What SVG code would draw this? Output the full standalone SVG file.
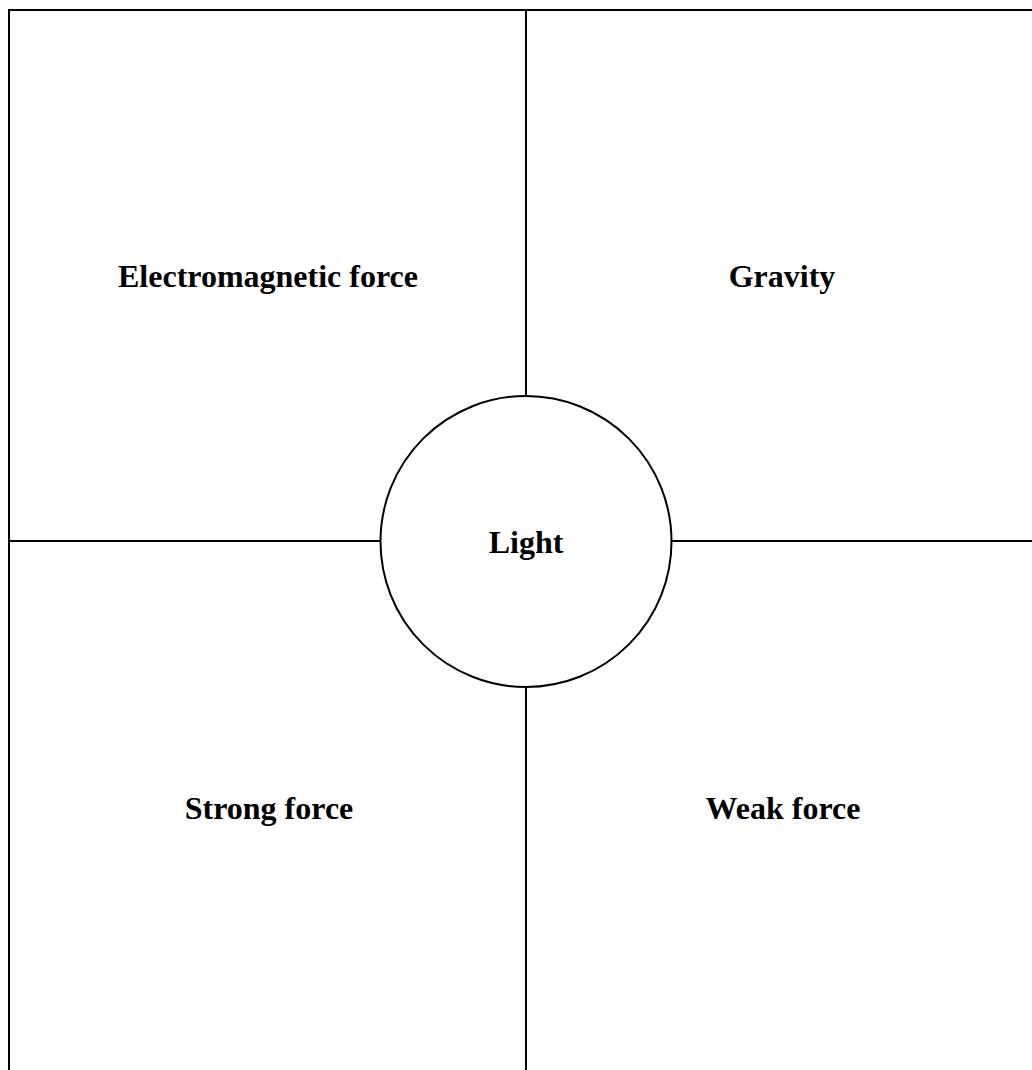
<svg xmlns="http://www.w3.org/2000/svg" width="1032" height="1070" viewBox="0 0 1032 1070">
<style>
.ln{stroke:#000;stroke-width:2;fill:none}
.lbl{font-family:"Liberation Serif","Times New Roman",serif;font-weight:bold;font-size:32px;fill:#000;text-anchor:middle}
</style>
<rect width="1032" height="1070" fill="#fff"/>
<g id="connectors">
<path class="ln" d="M9,1070 V10 H1032"/>
<path class="ln" d="M526,10 V396"/>
<path class="ln" d="M526,687 V1070"/>
<path class="ln" d="M9,541 H380"/>
<path class="ln" d="M672,541 H1032"/>
</g>
<g id="electromagnetic"><text class="lbl" x="268" y="287">Electromagnetic force</text></g>
<g id="gravity"><text class="lbl" x="782" y="287">Gravity</text></g>
<g id="strong"><text class="lbl" x="269" y="819">Strong force</text></g>
<g id="weak"><text class="lbl" x="783" y="819">Weak force</text></g>
<g id="light">
<circle class="ln" cx="526" cy="541.5" r="145.5" fill="#fff"/>
<text class="lbl" x="526" y="553">Light</text>
</g>
</svg>
